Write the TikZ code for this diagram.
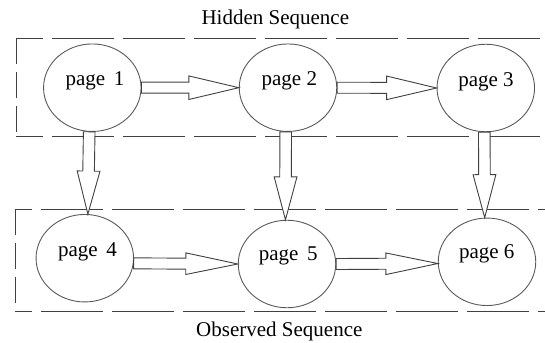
\documentclass[tikz,border=0pt]{standalone}
\usepackage{fontspec}
\setmainfont{Liberation Serif}
\usetikzlibrary{shapes.geometric,calc}

% hollow block arrow: #1 shaft half-width, #2 head half-width, #3 head length,
% #4 tail point, #5 tip point
\newcommand\blockarrow[5]{%
  \coordinate (ba-base) at ($(#5)!#3!(#4)$);
  \draw[blockarr]
    ($(#4)!#1!90:(#5)$) -- ($(ba-base)!#1!90:(#5)$) -- ($(ba-base)!#2!90:(#5)$)
    -- (#5)
    -- ($(ba-base)!#2!-90:(#5)$) -- ($(ba-base)!#1!-90:(#5)$) -- ($(#4)!#1!-90:(#5)$)
    -- cycle;}

\begin{document}
\begin{tikzpicture}[x=1pt,y=-1pt,
  state/.style={ellipse,draw=black!65,line width=0.9pt,inner sep=0pt,
    minimum width=97.5pt,minimum height=87.5pt},
  pagelbl/.style={anchor=base,inner sep=0pt,font=\fontsize{21pt}{24pt}\selectfont},
  title/.style={anchor=base,inner sep=0pt,font=\fontsize{21pt}{24pt}\selectfont},
  blockarr/.style={draw=black!75,fill=white,line width=0.9pt,line join=miter},
  hdash/.style={draw=black!75,line width=1pt,dash pattern=on 62pt off 9pt},
  vdash/.style={draw=black!75,line width=1pt,dash pattern=on 26pt off 8pt}]
\useasboundingbox (0,0) rectangle (545,342);

% group frames (the right side runs past the edge of the page)
\coordinate (hTL) at (16,38.3);  \coordinate (hTR) at (600,38.3);
\coordinate (hBL) at (16,136);   \coordinate (hBR) at (600,136);
\coordinate (oTL) at (15,209.3); \coordinate (oTR) at (600,209.3);
\coordinate (oBL) at (15,311.7); \coordinate (oBR) at (600,311.7);
\draw[hdash,dash phase=35pt] (hTL) -- (hTR);
\draw[hdash,dash phase=35pt] (hBL) -- (hBR);
\draw[vdash] (hTL) -- (hBL);
\draw[hdash,dash phase=45pt] (oTL) -- (oTR);
\draw[hdash,dash phase=45pt] (oBL) -- (oBR);
\draw[vdash] (oTL) -- (oBL);

% group titles
\node[title] (hid) at (275.3,25) {Hidden Sequence};
\node[title] (obs) at (279.3,336.7) {Observed Sequence};

% states
\node[state] (p1) at (92.3,87.7) {};
\node[state] (p2) at (288,87.7) {};
\node[state] (p3) at (485.8,88) {};
\node[state] (p4) at (84.8,258.2) {};
\node[state] (p5) at (287,264) {};
\node[state] (p6) at (487,261.8) {};

\node[pagelbl] (t1) at (95,85) {page\ \,1};
\node[pagelbl] (t2) at (289.3,85) {page 2};
\node[pagelbl] (t3) at (486,86.7) {page 3};
\node[pagelbl] (t4) at (87.5,256.7) {page\ \,4};
\node[pagelbl] (t5) at (288.3,260.7) {page\ \,5};
\node[pagelbl] (t6) at (486.7,258.3) {page 6};

% transitions along each sequence
\blockarrow{5.5pt}{11.8pt}{50pt}{p1.east}{p2.west}
\blockarrow{5.5pt}{11.8pt}{50pt}{p2.east}{p3.west}
\blockarrow{5.5pt}{10.8pt}{52pt}{p4.-6}{p5.west}
\blockarrow{5.5pt}{10.8pt}{52pt}{p5.east}{p6.182}

% emissions from hidden to observed pages
\blockarrow{5.8pt}{11.4pt}{43pt}{p1.-94}{p4.86}
\blockarrow{5.8pt}{11.4pt}{43pt}{p2.-93}{p5.92}
\blockarrow{5.8pt}{11.4pt}{43pt}{p3.-92}{p6.93}
\end{tikzpicture}
\end{document}
